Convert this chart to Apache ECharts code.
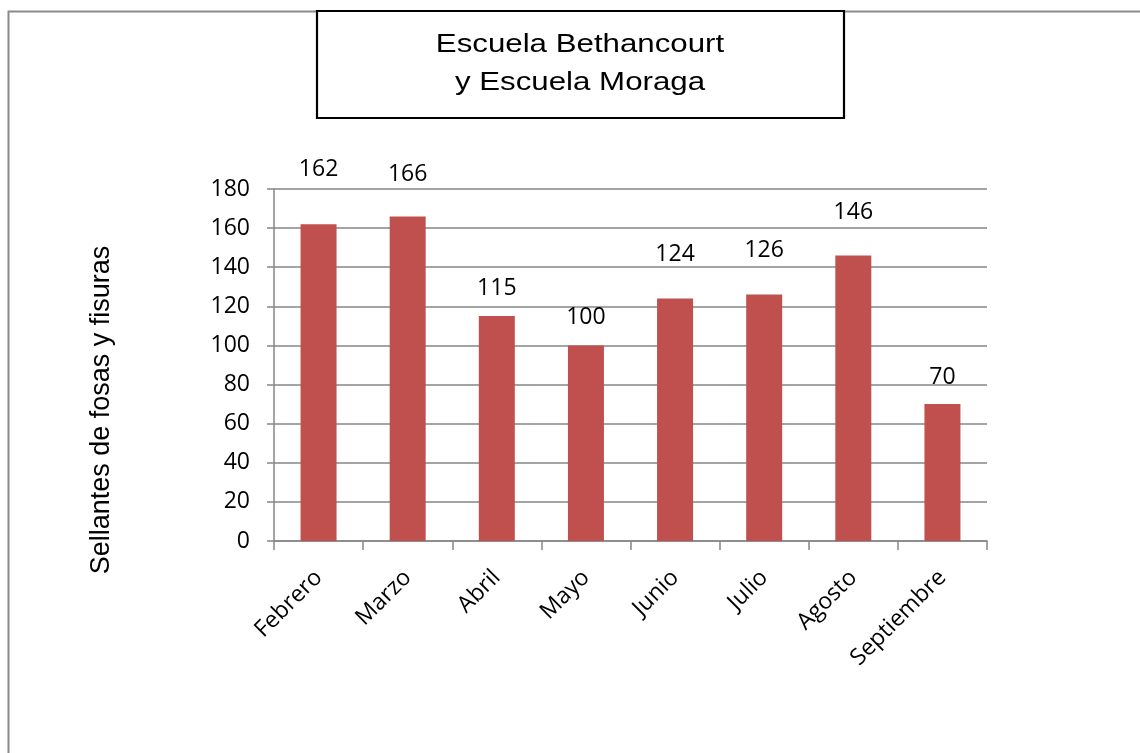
<!DOCTYPE html>
<html>
<head>
<meta charset="utf-8">
<script src="https://cdn.jsdelivr.net/npm/echarts@6/dist/echarts.min.js"></script>
<style>
html,body{margin:0;padding:0;background:#fff;}
#chart{width:1140px;height:753px;}
</style>
</head>
<body>
<div id="chart"></div>
<script>
const titleLines = ["Escuela Bethancourt", "y Escuela Moraga"];
const yAxisTitle = "Sellantes de fosas y fisuras";
const months = ["Febrero", "Marzo", "Abril", "Mayo", "Junio", "Julio", "Agosto", "Septiembre"];
const sealants = [162, 166, 115, 100, 124, 126, 146, 70];
const yTicks = { min: 0, max: 180, interval: 20 };
// per-label gap above each bar (style only)
const labelGaps = [43, 30, 16, 16, 32, 32, 31, 15];

const gridColor = '#868686';
const numFont = '"Open Sans", sans-serif';
const sansFont = '"Liberation Sans", Arial, sans-serif';

const chart = echarts.init(document.getElementById('chart'), null, { renderer: 'canvas' });
chart.setOption({
  animation: false,
  backgroundColor: '#ffffff',
  grid: { left: 274, right: 153, top: 189, bottom: 212, containLabel: false },
  xAxis: {
    type: 'category',
    data: months,
    axisLine: { show: true, lineStyle: { color: gridColor, width: 1.5 } },
    axisTick: { show: true, alignWithLabel: false, length: 9, lineStyle: { color: gridColor, width: 1.5 } },
    axisLabel: { rotate: 45, margin: 33, color: '#000', fontFamily: numFont, fontSize: 23, interval: 0 },
    splitLine: { show: false }
  },
  yAxis: {
    type: 'value',
    min: yTicks.min, max: yTicks.max, interval: yTicks.interval,
    axisLine: { show: true, lineStyle: { color: gridColor, width: 1.5 } },
    axisTick: { show: true, length: 7, inside: false, lineStyle: { color: gridColor, width: 1.5 } },
    axisLabel: { margin: 24, color: '#000', fontFamily: numFont, fontSize: 23 },
    splitLine: { show: true, lineStyle: { color: gridColor, width: 1.5 } }
  },
  series: [{
    type: 'bar',
    barWidth: 36,
    itemStyle: { color: '#C0504D' },
    data: sealants.map((v, i) => ({
      value: v,
      label: { distance: labelGaps[i] }
    })),
    label: {
      show: true, position: 'top', color: '#000',
      fontFamily: numFont, fontSize: 23, lineHeight: 24
    }
  }],
  graphic: [
    {
      type: 'polyline', silent: true, z: 1,
      shape: { points: [[8.5, 760], [8.5, 11.5], [1150, 11.5]] },
      style: { stroke: '#8a8a8a', lineWidth: 2, fill: null }
    },
    {
      type: 'rect', silent: true, z: 2,
      shape: { x: 317, y: 11, width: 527, height: 107 },
      style: { stroke: '#000', lineWidth: 2.2, fill: '#fff' }
    },
    {
      type: 'text', silent: true, z: 3,
      x: 580, y: 64, scaleX: 1.25,
      style: {
        text: titleLines.join('\n'),
        fill: '#000', font: '25px ' + sansFont,
        lineHeight: 38, align: 'center', verticalAlign: 'middle'
      }
    },
    {
      type: 'text', silent: true, z: 3,
      x: 102, y: 410, rotation: Math.PI / 2,
      style: {
        text: yAxisTitle,
        fill: '#000', font: '27px ' + sansFont,
        align: 'center', verticalAlign: 'middle'
      }
    }
  ]
});
</script>
</body>
</html>
